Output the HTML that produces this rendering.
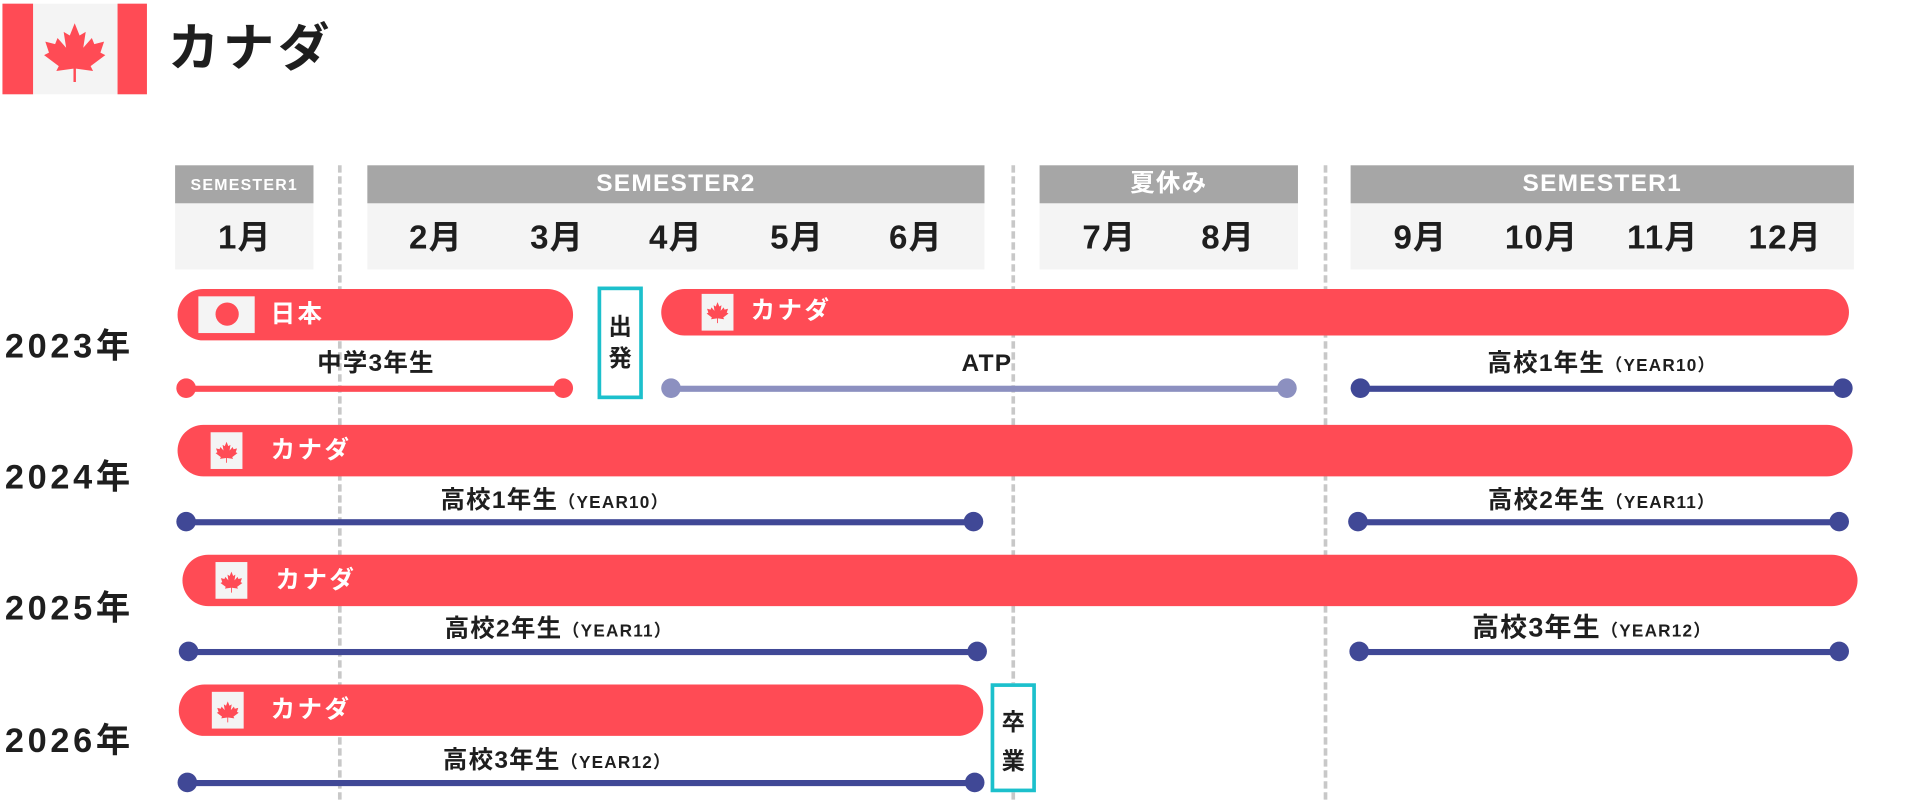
<!DOCTYPE html>
<html><head><meta charset="utf-8">
<style>
html,body{margin:0;padding:0;background:#fff;width:1920px;height:800px;overflow:hidden}
#w{position:absolute;left:0;top:0;width:1568px;height:654px;transform:scale(1.22449);transform-origin:0 0;font-family:"Liberation Sans","Noto Sans CJK JP",sans-serif;font-weight:bold;color:#1e1e1e}
.a{position:absolute}
.hd{position:absolute;background:#f4f4f4}
.hd .b{position:absolute;left:0;right:0;top:0;height:31px;background:#a6a6a6;color:#fff;text-align:center;line-height:31px;font-size:20px;letter-spacing:1px}
.m{position:absolute;top:176px;width:80px;margin-left:-40px;text-align:center;font-size:27px;line-height:36px;letter-spacing:1px}
.dl{position:absolute;top:135px;height:518px;width:0;border-left:3px dashed #c8c8c8}
.yr{position:absolute;left:4px;font-size:28px;line-height:36px;letter-spacing:3px}
.pill{position:absolute;background:#ff4b55;height:42px;border-radius:21px}
.pt{position:absolute;color:#fff;font-size:20px;line-height:28px;letter-spacing:2px}
.fl{position:absolute;width:26px;height:30px;background:#f4f4f4}
.ln{position:absolute;height:5px}
.dot{position:absolute;width:16px;height:16px;border-radius:50%;margin:-8px 0 0 -8px}
.lb{position:absolute;font-size:20px;line-height:26px;white-space:nowrap;transform:translateX(-50%);letter-spacing:1px}
.lb small{font-size:14px;font-weight:bold;letter-spacing:1px}
.box{position:absolute;border:3px solid #1cc0cc;box-sizing:border-box;font-size:19px;line-height:26px;text-align:center;background:#fff}
</style></head><body><div id="w">
<div class="a" style="left:2px;top:3px;width:118px;height:74px;background:#f4f4f4"></div>
<div class="a" style="left:2px;top:3px;width:25px;height:74px;background:#ff4b55"></div>
<div class="a" style="left:96px;top:3px;width:24px;height:74px;background:#ff4b55"></div>
<svg class="a" style="left:33px;top:17px" width="56" height="50" viewBox="0 0 56 50"><path fill="#ff4b55" d="M28 2 L32 12 L37 9 L35 22 L42 14 L44 19 L52 17 L49 26 L53 28 L41 37 L43 41 L29 39 L29 50 L27 50 L27 39 L13 41 L15 37 L3 28 L7 26 L4 17 L12 19 L14 14 L21 22 L19 9 L24 12 Z"/></svg>
<div class="a" style="left:137px;top:12px;font-size:42px;line-height:56px;letter-spacing:3px">カナダ</div>

<div class="hd" style="left:143px;top:135px;width:113px;height:85px"><div class="b" style="font-size:13px">SEMESTER1</div></div>
<div class="hd" style="left:300px;top:135px;width:504px;height:85px"><div class="b">SEMESTER2</div></div>
<div class="hd" style="left:849px;top:135px;width:211px;height:85px"><div class="b">夏休み</div></div>
<div class="hd" style="left:1103px;top:135px;width:411px;height:85px"><div class="b">SEMESTER1</div></div>
<div class="m" style="left:200px">1月</div><div class="m" style="left:356px">2月</div><div class="m" style="left:455px">3月</div><div class="m" style="left:552px">4月</div><div class="m" style="left:651px">5月</div><div class="m" style="left:748px">6月</div><div class="m" style="left:906px">7月</div><div class="m" style="left:1003px">8月</div><div class="m" style="left:1160px">9月</div><div class="m" style="left:1259px">10月</div><div class="m" style="left:1358px">11月</div><div class="m" style="left:1458px">12月</div>

<div class="dl" style="left:276px"></div><div class="dl" style="left:826px"></div><div class="dl" style="left:1081px"></div>

<div class="yr" style="top:265px">2023年</div>
<div class="yr" style="top:372px">2024年</div>
<div class="yr" style="top:479px">2025年</div>
<div class="yr" style="top:587px">2026年</div>

<div class="pill" style="left:145px;top:236px;width:323px"></div>
<div class="a" style="left:162px;top:242px;width:46px;height:30px;background:#f4f4f4"></div>
<div class="a" style="left:176px;top:247px;width:19px;height:19px;border-radius:50%;background:#ff4b55"></div>
<div class="pt" style="left:221px;top:243px">日本</div>
<div class="box" style="left:488px;top:234px;width:37px;height:92px;padding-top:18px">出<br>発</div>
<div class="pill" style="left:540px;top:236px;width:970px;height:38px"></div>
<div class="fl" style="left:573px;top:240px"></div>
<div class="pt" style="left:613px;top:240px">カナダ</div>
<div class="lb" style="left:307px;top:284px">中学3年生</div>
<div class="ln" style="left:152px;top:315px;width:308px;background:#ff4b55"></div>
<div class="dot" style="left:152px;top:317px;background:#ff4b55"></div><div class="dot" style="left:460px;top:317px;background:#ff4b55"></div>
<div class="lb" style="left:806px;top:284px">ATP</div>
<div class="ln" style="left:548px;top:315px;width:503px;background:#8c90c0"></div>
<div class="dot" style="left:548px;top:317px;background:#8c90c0"></div><div class="dot" style="left:1051px;top:317px;background:#8c90c0"></div>
<div class="lb" style="left:1308px;top:284px">高校1年生<small>（YEAR10）</small></div>
<div class="ln" style="left:1111px;top:315px;width:394px;background:#404896"></div>
<div class="dot" style="left:1111px;top:317px;background:#404896"></div><div class="dot" style="left:1505px;top:317px;background:#404896"></div>

<div class="pill" style="left:145px;top:347px;width:1368px"></div>
<div class="fl" style="left:172px;top:353px"></div>
<div class="pt" style="left:221px;top:354px">カナダ</div>
<div class="lb" style="left:453px;top:396px">高校1年生<small>（YEAR10）</small></div>
<div class="ln" style="left:152px;top:424px;width:643px;background:#404896"></div>
<div class="dot" style="left:152px;top:426px;background:#404896"></div><div class="dot" style="left:795px;top:426px;background:#404896"></div>
<div class="lb" style="left:1308px;top:396px">高校2年生<small>（YEAR11）</small></div>
<div class="ln" style="left:1109px;top:424px;width:393px;background:#404896"></div>
<div class="dot" style="left:1109px;top:426px;background:#404896"></div><div class="dot" style="left:1502px;top:426px;background:#404896"></div>

<div class="pill" style="left:149px;top:453px;width:1368px"></div>
<div class="fl" style="left:176px;top:459px"></div>
<div class="pt" style="left:225px;top:460px">カナダ</div>
<div class="lb" style="left:456px;top:501px">高校2年生<small>（YEAR11）</small></div>
<div class="ln" style="left:154px;top:530px;width:644px;background:#404896"></div>
<div class="dot" style="left:154px;top:532px;background:#404896"></div><div class="dot" style="left:798px;top:532px;background:#404896"></div>
<div class="lb" style="left:1300px;top:500px;font-size:22px">高校3年生<small>（YEAR12）</small></div>
<div class="ln" style="left:1110px;top:530px;width:392px;background:#404896"></div>
<div class="dot" style="left:1110px;top:532px;background:#404896"></div><div class="dot" style="left:1502px;top:532px;background:#404896"></div>

<div class="pill" style="left:146px;top:559px;width:657px"></div>
<div class="fl" style="left:173px;top:565px"></div>
<div class="pt" style="left:221px;top:566px">カナダ</div>
<div class="box" style="left:809px;top:558px;width:37px;height:89px;padding-top:14px;line-height:32px">卒<br>業</div>
<div class="lb" style="left:455px;top:608px">高校3年生<small>（YEAR12）</small></div>
<div class="ln" style="left:153px;top:637px;width:643px;background:#404896"></div>
<div class="dot" style="left:153px;top:639px;background:#404896"></div><div class="dot" style="left:796px;top:639px;background:#404896"></div>

<svg class="a" style="left:576px;top:245px" width="20" height="20" viewBox="0 0 56 50"><path fill="#ff4b55" d="M28 2 L32 12 L37 9 L35 22 L42 14 L44 19 L52 17 L49 26 L53 28 L41 37 L43 41 L29 39 L29 50 L27 50 L27 39 L13 41 L15 37 L3 28 L7 26 L4 17 L12 19 L14 14 L21 22 L19 9 L24 12 Z"/></svg>
<svg class="a" style="left:175px;top:359px" width="20" height="20" viewBox="0 0 56 50"><path fill="#ff4b55" d="M28 2 L32 12 L37 9 L35 22 L42 14 L44 19 L52 17 L49 26 L53 28 L41 37 L43 41 L29 39 L29 50 L27 50 L27 39 L13 41 L15 37 L3 28 L7 26 L4 17 L12 19 L14 14 L21 22 L19 9 L24 12 Z"/></svg>
<svg class="a" style="left:179px;top:465px" width="20" height="20" viewBox="0 0 56 50"><path fill="#ff4b55" d="M28 2 L32 12 L37 9 L35 22 L42 14 L44 19 L52 17 L49 26 L53 28 L41 37 L43 41 L29 39 L29 50 L27 50 L27 39 L13 41 L15 37 L3 28 L7 26 L4 17 L12 19 L14 14 L21 22 L19 9 L24 12 Z"/></svg>
<svg class="a" style="left:176px;top:571px" width="20" height="20" viewBox="0 0 56 50"><path fill="#ff4b55" d="M28 2 L32 12 L37 9 L35 22 L42 14 L44 19 L52 17 L49 26 L53 28 L41 37 L43 41 L29 39 L29 50 L27 50 L27 39 L13 41 L15 37 L3 28 L7 26 L4 17 L12 19 L14 14 L21 22 L19 9 L24 12 Z"/></svg>
</div></body></html>
